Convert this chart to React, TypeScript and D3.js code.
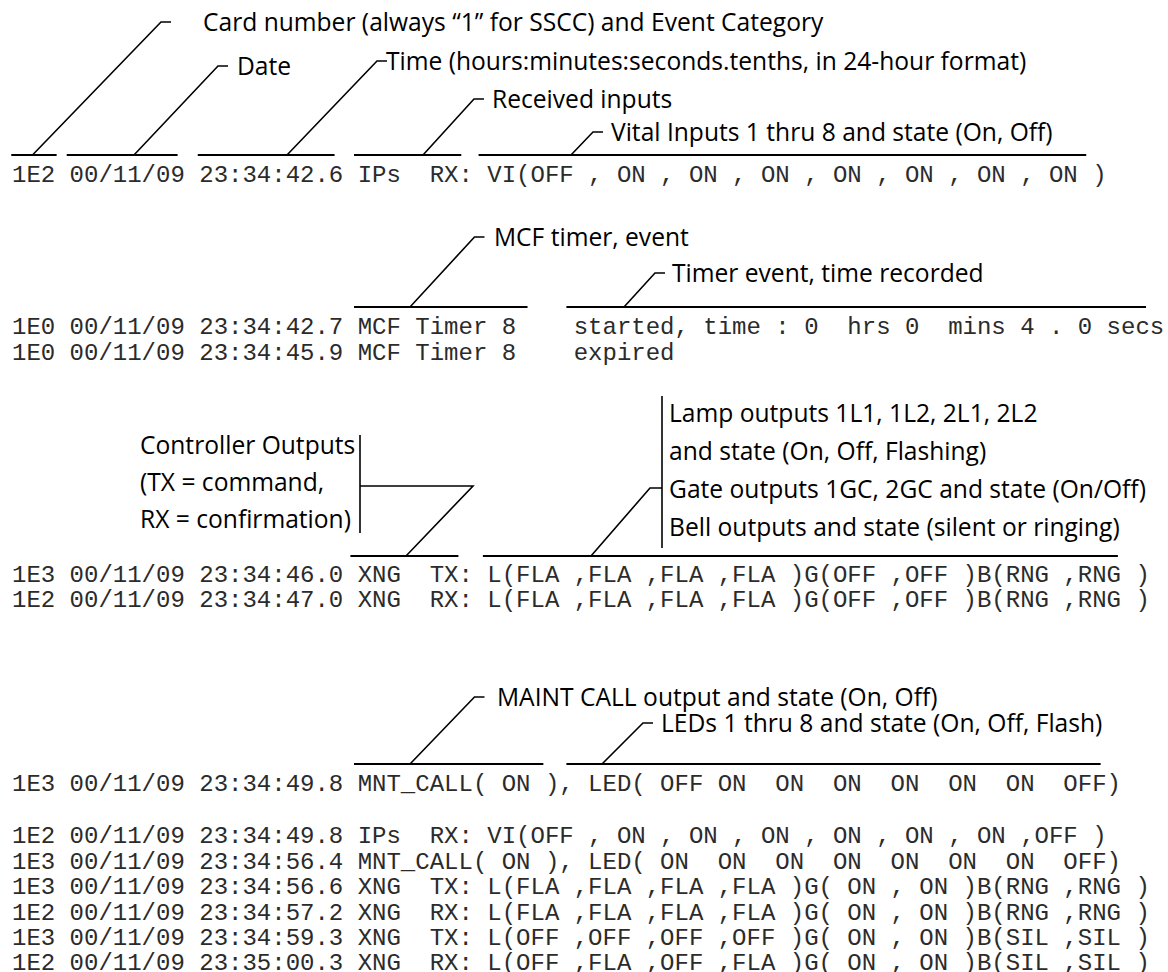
import React from "react";
import * as d3 from "d3";

// ---- Data: log lines ----
const topRows = ["1E2 00/11/09 23:34:42.6 IPs  RX: VI(OFF , ON , ON , ON , ON , ON , ON , ON )"];
const timerRows = [
  "1E0 00/11/09 23:34:42.7 MCF Timer 8    started, time : 0  hrs 0  mins 4 . 0 secs",
  "1E0 00/11/09 23:34:45.9 MCF Timer 8    expired",
];
const xngRows = [
  "1E3 00/11/09 23:34:46.0 XNG  TX: L(FLA ,FLA ,FLA ,FLA )G(OFF ,OFF )B(RNG ,RNG )",
  "1E2 00/11/09 23:34:47.0 XNG  RX: L(FLA ,FLA ,FLA ,FLA )G(OFF ,OFF )B(RNG ,RNG )",
];
const mntRows = ["1E3 00/11/09 23:34:49.8 MNT_CALL( ON ), LED( OFF ON  ON  ON  ON  ON  ON  OFF)"];
const bottomRows = [
  "1E2 00/11/09 23:34:49.8 IPs  RX: VI(OFF , ON , ON , ON , ON , ON , ON ,OFF )",
  "1E3 00/11/09 23:34:56.4 MNT_CALL( ON ), LED( ON  ON  ON  ON  ON  ON  ON  OFF)",
  "1E3 00/11/09 23:34:56.6 XNG  TX: L(FLA ,FLA ,FLA ,FLA )G( ON , ON )B(RNG ,RNG )",
  "1E2 00/11/09 23:34:57.2 XNG  RX: L(FLA ,FLA ,FLA ,FLA )G( ON , ON )B(RNG ,RNG )",
  "1E3 00/11/09 23:34:59.3 XNG  TX: L(OFF ,OFF ,OFF ,OFF )G( ON , ON )B(SIL ,SIL )",
  "1E2 00/11/09 23:35:00.3 XNG  RX: L(OFF ,FLA ,OFF ,FLA )G( ON , ON )B(SIL ,SIL )",
];

// ---- Data: annotation labels ----
const topLabels = [
  "Card number (always \u201c1\u201d for SSCC) and Event Category",
  "Date",
  "Time (hours:minutes:seconds.tenths, in 24-hour format)",
  "Received inputs",
  "Vital Inputs 1 thru 8 and state (On, Off)",
];
const timerLabels = ["MCF timer, event", "Timer event, time recorded"];
const controllerLabel = ["Controller Outputs", "(TX = command,", "RX = confirmation)"];
const lampLabel = [
  "Lamp outputs 1L1, 1L2, 2L1, 2L2",
  "and state (On, Off, Flashing)",
  "Gate outputs 1GC, 2GC and state (On/Off)",
  "Bell outputs and state (silent or ringing)",
];
const mntLabels = ["MAINT CALL output and state (On, Off)", "LEDs 1 thru 8 and state (On, Off, Flash)"];

// ---- Layout (positions kept separate from the data) ----
const W = 1168;
const H = 972;
const col = d3.scaleLinear().domain([0, 1]).range([12, 26.4]); // monospace column -> x
const MONO = "'Liberation Mono', 'Courier New', monospace";
const SANS = "'Open Sans', 'Noto Sans', sans-serif";
const monoSize = 24;
const sansSize = 24.6;

// row centres (y) for each block of log rows
const topRowY = [175];
const timerRowY = [327, 353];
const xngRowY = [575, 600];
const mntRowY = [784];
const bottomRowY = [836, 862, 887, 913, 938, 963];

// underlines: [colStart, colEnd] and y
const topUnder = { y: 155, spans: [[-0.05, 3.1], [3.8, 11.5], [12.9, 22.4], [23.75, 31.2], [32.4, 74.6]] };
const timerUnder = { y: 307, spans: [[23.75, 35.8], [38.5, 78.75]] };
const xngUnder = { y: 556, spans: [[23.5, 31.0], [32.7, 76.8]] };
const mntUnder = { y: 764, spans: [[23.75, 36.9], [38.5, 75.6]] };

// simple leaders: label text x, label centre y, tick start x, diagonal bottom x
const topLeaders = [
  { tx: 203, ty: 22, kx: 161, bx: 32.5 },
  { tx: 237, ty: 66, kx: 218, bx: 134 },
  { tx: 386, ty: 61, kx: 377, bx: 287 },
  { tx: 492, ty: 99, kx: 474, bx: 423 },
  { tx: 611, ty: 132, kx: 593, bx: 571 },
];
const timerLeaders = [
  { tx: 494, ty: 237, kx: 474.5, bx: 410 },
  { tx: 672, ty: 273, kx: 655, bx: 624 },
];
const mntLeaders = [
  { tx: 497, ty: 697, kx: 474.5, bx: 410 },
  { tx: 661, ty: 723, kx: 643, bx: 602 },
];

const STROKE = "#000";

function MonoRows({ rows, ys }: { rows: string[]; ys: number[] }) {
  return (
    <g>
      {rows.map((r, i) => (
        <text
          key={i}
          x={col(0)}
          y={ys[i] + 7}
          fontFamily={MONO}
          fontSize={monoSize}
          fill="#2b2b2b"
          xmlSpace="preserve"
          style={{ whiteSpace: "pre" }}
        >
          {r}
        </text>
      ))}
    </g>
  );
}

function Underlines({ u }: { u: { y: number; spans: number[][] } }) {
  return (
    <g>
      {u.spans.map((s, i) => (
        <line key={i} x1={col(s[0])} x2={col(s[1])} y1={u.y} y2={u.y} stroke={STROKE} strokeWidth={2} />
      ))}
    </g>
  );
}

function Leaders({
  labels,
  leaders,
  uy,
}: {
  labels: string[];
  leaders: { tx: number; ty: number; kx: number; bx: number }[];
  uy: number;
}) {
  const line = d3.line();
  return (
    <g>
      {leaders.map((l, i) => {
        const d = line([
          [l.kx + 10, l.ty],
          [l.kx, l.ty],
          [l.bx, uy],
        ]) as string;
        return (
          <g key={i}>
            <path d={d} fill="none" stroke={STROKE} strokeWidth={1.6} />
            <text x={l.tx} y={l.ty + 8.5} fontFamily={SANS} fontSize={sansSize} fill="#000">
              {labels[i]}
            </text>
          </g>
        );
      })}
    </g>
  );
}

export default function App() {
  const line = d3.line();
  const ctrlYs = [445, 482, 519];
  const lampYs = [413, 451, 489, 527];
  return (
    <svg
      width={W}
      height={H}
      viewBox={`0 0 ${W} ${H}`}
      style={{ position: "absolute", left: 0, top: 0, background: "#fff" }}
    >
      <rect x={0} y={0} width={W} height={H} fill="#fff" />

      {/* top block */}
      <Leaders labels={topLabels} leaders={topLeaders} uy={topUnder.y} />
      <Underlines u={topUnder} />
      <MonoRows rows={topRows} ys={topRowY} />

      {/* timer block */}
      <Leaders labels={timerLabels} leaders={timerLeaders} uy={timerUnder.y} />
      <Underlines u={timerUnder} />
      <MonoRows rows={timerRows} ys={timerRowY} />

      {/* crossing block */}
      {controllerLabel.map((t, i) => (
        <text key={i} x={140} y={ctrlYs[i] + 8.5} fontFamily={SANS} fontSize={sansSize} fill="#000">
          {t}
        </text>
      ))}
      <line x1={360} x2={360} y1={435} y2={533} stroke={STROKE} strokeWidth={1.6} />
      <path
        d={line([[360, 486], [473, 486], [406, xngUnder.y]]) as string}
        fill="none"
        stroke={STROKE}
        strokeWidth={1.6}
      />
      {lampLabel.map((t, i) => (
        <text key={i} x={669} y={lampYs[i] + 8.5} fontFamily={SANS} fontSize={sansSize} fill="#000">
          {t}
        </text>
      ))}
      <line x1={662} x2={662} y1={396} y2={548} stroke={STROKE} strokeWidth={1.6} />
      <path
        d={line([[662, 488], [650, 488], [591, xngUnder.y]]) as string}
        fill="none"
        stroke={STROKE}
        strokeWidth={1.6}
      />
      <Underlines u={xngUnder} />
      <MonoRows rows={xngRows} ys={xngRowY} />

      {/* maintenance block */}
      <Leaders labels={mntLabels} leaders={mntLeaders} uy={mntUnder.y} />
      <Underlines u={mntUnder} />
      <MonoRows rows={mntRows} ys={mntRowY} />

      <MonoRows rows={bottomRows} ys={bottomRowY} />
    </svg>
  );
}
